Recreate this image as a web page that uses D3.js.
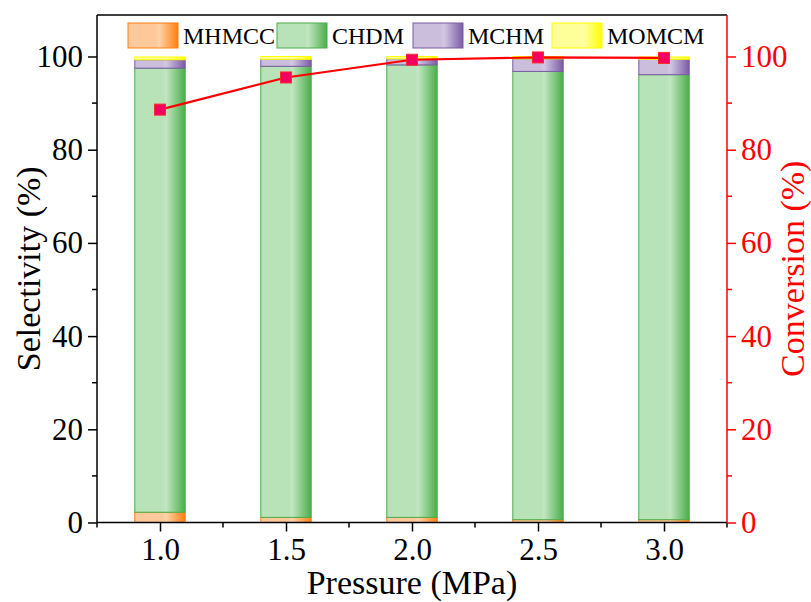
<!DOCTYPE html>
<html><head><meta charset="utf-8">
<script src="https://cdn.jsdelivr.net/npm/d3@7"></script>
<style>body{margin:0;background:#fff}svg{display:block}</style>
</head><body><svg id="c" width="811" height="602"></svg>
<script>
const pressures = [1.0, 1.5, 2.0, 2.5, 3.0];
const seriesNames = ["MHMCC", "CHDM", "MCHM", "MOMCM"];
const MHMCC = [2.2, 1.1, 1.1, 0.6, 0.6];
const CHDM  = [95.3, 96.8, 97.1, 96.2, 95.5];
const MCHM  = [1.8, 1.5, 1.3, 2.7, 3.3];
const MOMCM = [0.6, 0.6, 0.5, 0.5, 0.5];
const conversion = [88.6, 95.5, 99.3, 99.8, 99.7];
const yTicks = [0, 20, 40, 60, 80, 100];
const yMinorTicks = [10, 30, 50, 70, 90];
const xTicks = [1.0, 1.5, 2.0, 2.5, 3.0];
const xMinorTicks = [0.75, 1.25, 1.75, 2.25, 2.75, 3.25];

const FONT = "'Liberation Serif', 'Times New Roman', serif";
const colors = [
  {light:"#fec99a", hi:"#ffd3ab", dark:"#ff7f0e"},
  {light:"#b8e2b8", hi:"#c2e6c2", dark:"#4aae4a"},
  {light:"#cbbedd", hi:"#d3c8e3", dark:"#7a5aa6"},
  {light:"#ffff99", hi:"#ffffaa", dark:"#ffff00"}
];

const svg = d3.select("#c");
const L = 97, R = 727, T = 15, B = 522.5;
const x = d3.scaleLinear().domain([0.75, 3.25]).range([L, R]);
const y = d3.scaleLinear().domain([0, 109]).range([B, B - 109*4.66]);
const barW = x(1.2) - x(1.0);

const defs = svg.append("defs");
colors.forEach((c,i)=>{
  const g = defs.append("linearGradient").attr("id","g"+i).attr("x1","0").attr("x2","1").attr("y1","0").attr("y2","0");
  g.append("stop").attr("offset","0").attr("stop-color",c.light);
  g.append("stop").attr("offset","0.55").attr("stop-color",c.light);
  g.append("stop").attr("offset","0.62").attr("stop-color",c.hi);
  g.append("stop").attr("offset","1").attr("stop-color",c.dark);
});

const rows = pressures.map((p,i)=>({p, MHMCC:MHMCC[i], CHDM:CHDM[i], MCHM:MCHM[i], MOMCM:MOMCM[i]}));
const stack = d3.stack().keys(seriesNames)(rows);

stack.forEach((s,si)=>{
  svg.append("g").selectAll("rect").data(s).join("rect")
    .attr("x", d=>x(d.data.p)-barW/2)
    .attr("width", barW)
    .attr("y", d=>y(d[1]))
    .attr("height", d=>y(d[0])-y(d[1]))
    .attr("fill", `url(#g${si})`)
    .attr("stroke", colors[si].dark)
    .attr("stroke-width", 1);
});

svg.append("line").attr("x1",L).attr("x2",R).attr("y1",T).attr("y2",T).attr("stroke","#000").attr("stroke-width",1.5);

function styleAxis(g, color){
  g.attr("font-family", FONT);
  g.select(".domain").remove();
  g.selectAll(".tick line").attr("stroke",color).attr("stroke-width",1.5);
  g.selectAll(".tick text").attr("font-size",31).attr("fill",color).attr("font-family",FONT);
}

const gl = svg.append("g").attr("transform",`translate(${L},0)`)
  .call(d3.axisLeft(y).tickValues(yTicks).tickSize(9).tickPadding(5).tickFormat(d3.format("d")));
styleAxis(gl,"#000");
gl.append("line").attr("x1",0).attr("x2",0).attr("y1",T).attr("y2",B).attr("stroke","#000").attr("stroke-width",1.5);
gl.selectAll(".minor").data(yMinorTicks).join("line").attr("class","minor")
  .attr("x1",0).attr("x2",-5).attr("y1",d=>y(d)).attr("y2",d=>y(d)).attr("stroke","#000").attr("stroke-width",1.5);

const gb = svg.append("g").attr("transform",`translate(0,${B})`)
  .call(d3.axisBottom(x).tickValues(xTicks).tickSize(9).tickPadding(6).tickFormat(d3.format(".1f")));
styleAxis(gb,"#000");
gb.append("line").attr("x1",L).attr("x2",R).attr("y1",0).attr("y2",0).attr("stroke","#000").attr("stroke-width",1.5);
gb.selectAll(".minor").data(xMinorTicks).join("line").attr("class","minor")
  .attr("x1",d=>x(d)).attr("x2",d=>x(d)).attr("y1",0).attr("y2",5).attr("stroke","#000").attr("stroke-width",1.5);

const gr = svg.append("g").attr("transform",`translate(${R},0)`)
  .call(d3.axisRight(y).tickValues(yTicks).tickSize(9).tickPadding(5).tickFormat(d3.format("d")));
styleAxis(gr,"#ff0000");
gr.append("line").attr("x1",0).attr("x2",0).attr("y1",T).attr("y2",B).attr("stroke","#ff0000").attr("stroke-width",1.5);
gr.selectAll(".minor").data(yMinorTicks).join("line").attr("class","minor")
  .attr("x1",0).attr("x2",5).attr("y1",d=>y(d)).attr("y2",d=>y(d)).attr("stroke","#ff0000").attr("stroke-width",1.5);

const line = d3.line().x((d,i)=>x(pressures[i])).y(d=>y(d));
svg.append("path").datum(conversion).attr("d",line).attr("fill","none").attr("stroke","#ff0000").attr("stroke-width",2.2);
svg.append("g").selectAll("rect").data(conversion).join("rect")
  .attr("x",(d,i)=>x(pressures[i])-5.5).attr("y",d=>y(d)-5.5).attr("width",11).attr("height",11)
  .attr("fill","#f5005f").attr("stroke","#ff2a2a").attr("stroke-width",1);

svg.append("text").attr("transform",`translate(40,${(T+B)/2}) rotate(-90)`).attr("text-anchor","middle")
  .attr("font-family",FONT).attr("font-size",34).attr("fill","#000").text("Selectivity (%)");
svg.append("text").attr("transform",`translate(804,${(T+B)/2}) rotate(-90)`).attr("text-anchor","middle")
  .attr("font-family",FONT).attr("font-size",34).attr("fill","#ff0000").text("Conversion (%)");
svg.append("text").attr("x",(L+R)/2).attr("y",594).attr("text-anchor","middle")
  .attr("font-family",FONT).attr("font-size",34).attr("fill","#000").text("Pressure (MPa)");

const legX = [128, 277, 413, 552];
const lg = svg.append("g");
seriesNames.forEach((n,i)=>{
  lg.append("rect").attr("x",legX[i]).attr("y",23).attr("width",50).attr("height",25)
    .attr("fill",`url(#g${i})`).attr("stroke",colors[i].dark).attr("stroke-width",1);
  lg.append("text").attr("x",legX[i]+55).attr("y",44).attr("font-family",FONT).attr("font-size",24).attr("fill","#000").text(n);
});
</script></body></html>
